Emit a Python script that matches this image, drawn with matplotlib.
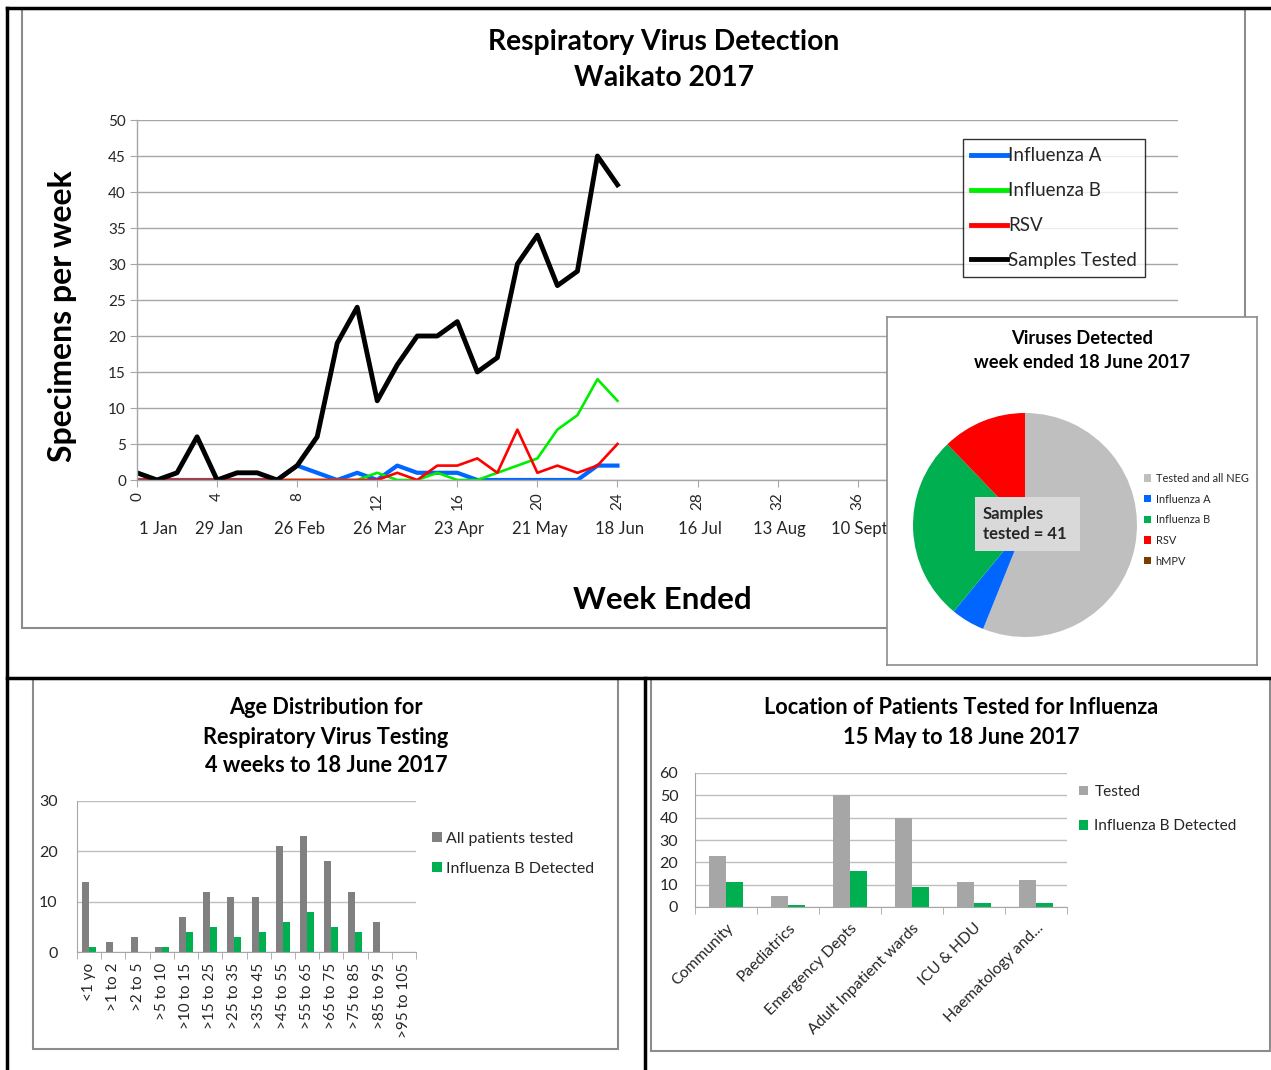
import matplotlib
matplotlib.use("Agg")
import matplotlib.pyplot as plt
from matplotlib.patches import Rectangle
from matplotlib.lines import Line2D
from matplotlib.transforms import blended_transform_factory
import numpy as np

plt.rcParams['font.family'] = ['Lato', 'DejaVu Sans']

# ---------------- data ----------------
weeks = list(range(0, 25))
samples_tested = [1, 0, 1, 6, 0, 1, 1, 0, 2, 6, 19, 24, 11, 16, 20, 20, 22, 15, 17, 30, 34, 27, 29, 45, 41]
influenza_a = [0, 0, 0, 0, 0, 0, 0, 0, 2, 1, 0, 1, 0, 2, 1, 1, 1, 0, 0, 0, 0, 0, 0, 2, 2]
influenza_b = [0, 0, 0, 0, 0, 0, 0, 0, 0, 0, 0, 0, 1, 0, 0, 1, 0, 0, 1, 2, 3, 7, 9, 14, 11]
rsv = [0, 0, 0, 0, 0, 0, 0, 0, 0, 0, 0, 0, 0, 1, 0, 2, 2, 3, 1, 7, 1, 2, 1, 2, 5]
week_ticks = list(range(0, 53, 4))
visible_week_labels = ['0', '4', '8', '12', '16', '20', '24', '28', '32', '36']
date_labels = ['1 Jan', '29 Jan', '26 Feb', '26 Mar', '23 Apr', '21 May', '18 Jun',
               '16 Jul', '13 Aug', '10 Sept']

pie_labels = ['Tested and all NEG', 'Influenza A', 'Influenza B', 'RSV', 'hMPV']
pie_values = [23, 2, 11, 5, 0]
pie_colors = ['#bfbfbf', '#0066ff', '#00b050', '#ff0000', '#7a3d00']

age_groups = ['<1 yo', '>1 to 2', '>2 to 5', '>5 to 10', '>10 to 15', '>15 to 25', '>25 to 35',
              '>35 to 45', '>45 to 55', '>55 to 65', '>65 to 75', '>75 to 85', '>85 to 95',
              '>95 to 105']
age_all_tested = [14, 2, 3, 1, 7, 12, 11, 11, 21, 23, 18, 12, 6, 0]
age_flu_b = [1, 0, 0, 1, 4, 5, 3, 4, 6, 8, 5, 4, 0, 0]

locations = ['Community', 'Paediatrics', 'Emergency Depts', 'Adult Inpatient wards',
             'ICU & HDU', 'Haematology and...']
loc_tested = [23, 5, 50, 40, 11, 12]
loc_flu_b = [11, 1, 16, 9, 2, 2]

# ---------------- layout helpers ----------------
W, H = 1271, 1070
fig = plt.figure(figsize=(W / 100, H / 100), dpi=100)
fig.patch.set_facecolor('white')


def box(x0, y0, x1, y1):
    return [x0 / W, 1 - y1 / H, (x1 - x0) / W, (y1 - y0) / H]


def fx(x):
    return x / W


def fy(y):
    return 1 - y / H


def frame(x0, y0, x1, y1, color='#8c8c8c', lw=1.5, face='none', z=0):
    r = Rectangle((fx(x0), fy(y1)), (x1 - x0) / W, (y1 - y0) / H, transform=fig.transFigure,
                  facecolor=face, edgecolor=color, linewidth=lw, zorder=z)
    fig.add_artist(r)
    return r


def hline(x0, x1, y, color='black', lw=2.5, z=5):
    fig.add_artist(Line2D([fx(x0), fx(x1)], [fy(y), fy(y)], transform=fig.transFigure,
                          color=color, linewidth=lw, zorder=z))


def vline(x, y0, y1, color='black', lw=2.5, z=5):
    fig.add_artist(Line2D([fx(x), fx(x)], [fy(y0), fy(y1)], transform=fig.transFigure,
                          color=color, linewidth=lw, zorder=z))


GRID = '#a6a6a6'
TXT = '#262626'

# outer black lines
hline(7, 1271, 8)
vline(7, 8, 1070)
hline(7, 1271, 678)
vline(645, 678, 1070)

# main chart frame
frame(22, 9, 1245, 628)

# ---------------- main line chart ----------------
ax = fig.add_axes(box(137, 120, 1178, 480))
ax.set_zorder(1)
ax.set_xlim(0, 52)
ax.set_ylim(0, 50)
ax.plot(weeks, influenza_a, color='#0066ff', lw=3.0, label='Influenza A', solid_joinstyle='round')
ax.plot(weeks, influenza_b, color='#00ee00', lw=1.9, label='Influenza B', solid_joinstyle='round')
ax.plot(weeks, rsv, color='#ff0000', lw=1.9, label='RSV', solid_joinstyle='round')
ax.plot(weeks, samples_tested, color='black', lw=3.5, label='Samples Tested', solid_joinstyle='round')
ax.set_yticks(range(0, 51, 5))
ax.set_xticks(week_ticks)
ax.set_xticklabels(visible_week_labels + [''] * (len(week_ticks) - len(visible_week_labels)),
                   rotation=90)
ax.tick_params(axis='x', length=5, color=GRID, labelsize=11, labelcolor=TXT, pad=4)
ax.tick_params(axis='y', length=5, color=GRID, labelsize=11, labelcolor=TXT, pad=3)
ax.grid(axis='y', color=GRID, lw=1)
ax.set_axisbelow(True)
for s in ['top', 'right']:
    ax.spines[s].set_visible(False)
for s in ['left', 'bottom']:
    ax.spines[s].set_color(GRID)
    ax.spines[s].set_linewidth(1)
trans = blended_transform_factory(ax.transData, ax.transAxes)
for i, lab in enumerate(date_labels):
    if i == 0:
        ax.text(week_ticks[i] + 0.1, -0.135, lab, transform=trans, ha='left', va='center',
                fontsize=12, color=TXT)
    else:
        ax.text(week_ticks[i] + 0.1, -0.135, lab, transform=trans, ha='center', va='center',
                fontsize=12, color=TXT)
fig.text(fx(63), fy(316), 'Specimens per week', rotation=90, ha='center', va='center',
         fontsize=23, fontweight='bold', color='black')
fig.text(fx(662), fy(600), 'Week Ended', ha='center', va='center', fontsize=22.5,
         fontweight='bold', color='black')
fig.text(fx(664), fy(42), 'Respiratory Virus Detection', ha='center', va='center', fontsize=20.3,
         fontweight='bold', color='black')
fig.text(fx(664), fy(78), 'Waikato 2017', ha='center', va='center', fontsize=20.3,
         fontweight='bold', color='black')
leg = ax.legend(loc='upper left', bbox_to_anchor=(fx(963), fy(139)), bbox_transform=fig.transFigure,
                borderaxespad=0, frameon=True, fancybox=False, edgecolor='black', fontsize=13.5,
                handlelength=1.9, handletextpad=0.05, labelspacing=0.95, borderpad=0.45)
leg.get_frame().set_linewidth(1)
for l in leg.get_lines():
    l.set_linewidth(3.5)
for t in leg.get_texts():
    t.set_color(TXT)

# ---------------- pie chart ----------------
pbox = fig.add_axes(box(887, 317, 1257, 665))
pbox.set_zorder(3)
pbox.set_xticks([])
pbox.set_yticks([])
pbox.set_facecolor('white')
for s in pbox.spines.values():
    s.set_color('#8c8c8c')
    s.set_linewidth(1.2)

pax = fig.add_axes(box(913, 413, 1137, 637))
pax.set_zorder(4)
wedges, _ = pax.pie(pie_values, colors=pie_colors, startangle=90, counterclock=False,
                    radius=1.0, wedgeprops=dict(linewidth=0))
pax.set_aspect('equal')
pax.set_xlim(-1, 1)
pax.set_ylim(-1, 1)
pleg = pax.legend(wedges, pie_labels, loc='upper left', bbox_to_anchor=(fx(1144), fy(473)),
                  bbox_transform=fig.transFigure, borderaxespad=0, frameon=False, fontsize=7.9,
                  handlelength=0.65, handleheight=0.65, handletextpad=0.4, labelspacing=0.88,
                  borderpad=0)
for t in pleg.get_texts():
    t.set_color(TXT)
fig.text(fx(1082), fy(338), 'Viruses Detected', ha='center', va='center', fontsize=13.2,
         fontweight='bold', color='black', zorder=10)
fig.text(fx(1082), fy(362), 'week ended 18 June 2017', ha='center', va='center',
         fontsize=13.2, fontweight='bold', color='black', zorder=10)
# samples tested box
sbox = fig.add_axes(box(975, 497, 1080, 551))
sbox.set_zorder(5)
sbox.set_facecolor('#d9d9d9')
sbox.set_xticks([])
sbox.set_yticks([])
for s in sbox.spines.values():
    s.set_visible(False)
sbox.text(0.075, 0.5, 'Samples\ntested = %d' % samples_tested[-1], transform=sbox.transAxes,
          ha='left', va='center', fontsize=12, fontweight='bold', color=TXT, linespacing=1.35)

# ---------------- age distribution ----------------
frame(33, 679, 618, 1049)
aax = fig.add_axes(box(77, 801, 416, 952))
xa = np.arange(len(age_groups))
bw = 0.29
aax.bar(xa - bw / 2, age_all_tested, width=bw, color='#808080', label='All patients tested')
aax.bar(xa + bw / 2, age_flu_b, width=bw, color='#00b050', label='Influenza B Detected')
aax.set_xlim(-0.5, len(age_groups) - 0.5)
aax.set_ylim(0, 30)
aax.set_yticks([0, 10, 20, 30])
aax.set_xticks(xa)
aax.set_xticklabels(age_groups, rotation=90)
aax.set_xticks(np.arange(-0.5, len(age_groups)), minor=True)
aax.tick_params(axis='x', which='major', length=0, labelsize=11, labelcolor=TXT, pad=8)
aax.tick_params(axis='x', which='minor', length=5, color=GRID)
aax.tick_params(axis='y', length=0, labelsize=11.5, labelcolor=TXT, pad=14)
aax.grid(axis='y', color='#bfbfbf', lw=1)
aax.set_axisbelow(True)
for s in ['top', 'right']:
    aax.spines[s].set_visible(False)
for s in ['left', 'bottom']:
    aax.spines[s].set_color(GRID)
for i, line in enumerate(['Age Distribution for', 'Respiratory Virus Testing',
                          '4 weeks to 18 June 2017']):
    fig.text(fx(326), fy(708 + 29 * i), line, ha='center', va='center', fontsize=15.7,
             fontweight='bold', color='black')
aleg = aax.legend(loc='upper left', bbox_to_anchor=(fx(432), fy(832)), bbox_transform=fig.transFigure,
                  borderaxespad=0, frameon=False, fontsize=11.5, handlelength=0.6, handleheight=0.6,
                  handletextpad=0.3, labelspacing=1.0, borderpad=0)
for t in aleg.get_texts():
    t.set_color(TXT)

# ---------------- location chart ----------------
frame(651, 679, 1270, 1051)
lax = fig.add_axes(box(695, 773, 1067, 907))
xl = np.arange(len(locations))
bw2 = 0.28
lax.bar(xl - bw2 / 2, loc_tested, width=bw2, color='#a6a6a6', label='Tested')
lax.bar(xl + bw2 / 2, loc_flu_b, width=bw2, color='#00b050', label='Influenza B Detected')
lax.set_xlim(-0.5, len(locations) - 0.5)
lax.set_ylim(0, 60)
lax.set_yticks(range(0, 61, 10))
lax.set_xticks(xl)
lax.set_xticklabels(locations, rotation=45, ha='right', rotation_mode='anchor')
lax.set_xticks(np.arange(-0.5, len(locations)), minor=True)
lax.tick_params(axis='x', which='major', length=0, labelsize=11.3, labelcolor=TXT, pad=10)
lax.tick_params(axis='x', which='minor', length=5, color=GRID)
lax.tick_params(axis='y', length=0, labelsize=11.5, labelcolor=TXT, pad=12)
lax.grid(axis='y', color='#bfbfbf', lw=1)
lax.set_axisbelow(True)
for s in ['top', 'right']:
    lax.spines[s].set_visible(False)
for s in ['left', 'bottom']:
    lax.spines[s].set_color(GRID)
for i, line in enumerate(['Location of Patients Tested for Influenza', '15 May to 18 June 2017']):
    fig.text(fx(961), fy(708 + 29 * i), line, ha='center', va='center', fontsize=15.7,
             fontweight='bold', color='black')
lleg = lax.legend(loc='upper left', bbox_to_anchor=(fx(1079), fy(785)), bbox_transform=fig.transFigure,
                  borderaxespad=0, frameon=False, fontsize=11.1, handlelength=0.6, handleheight=0.6,
                  handletextpad=0.4, labelspacing=1.3, borderpad=0)
for t in lleg.get_texts():
    t.set_color(TXT)

fig.savefig('out.png', dpi=100, facecolor='white')
